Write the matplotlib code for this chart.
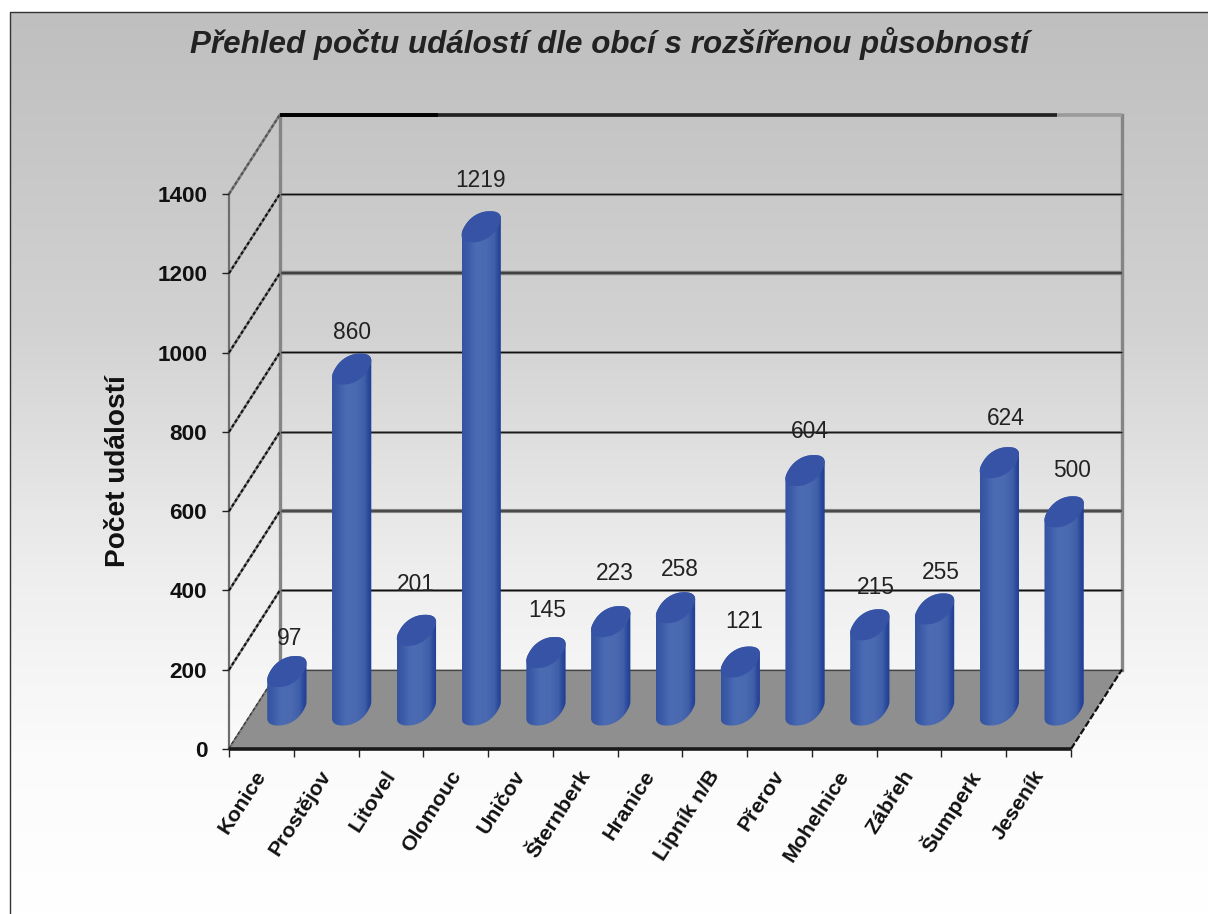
import numpy as np
import matplotlib
matplotlib.use("Agg")
import matplotlib.pyplot as plt
from matplotlib.path import Path
from matplotlib.patches import PathPatch, Polygon
from matplotlib.colors import LinearSegmentedColormap

# ---- data
categories = ["Konice", "Prostějov", "Litovel", "Olomouc", "Uničov", "Šternberk", "Hranice",
              "Lipník n/B", "Přerov", "Mohelnice", "Zábřeh", "Šumperk", "Jeseník"]
values = [97, 860, 201, 1219, 145, 223, 258, 121, 604, 215, 255, 624, 500]
y_ticks = [0, 200, 400, 600, 800, 1000, 1200, 1400]
title = "Přehled počtu událostí dle obcí s rozšířenou působností"
y_label = "Počet událostí"

# ---- label placement (pixels relative to bar top centre)
label_dx = [3, 0, -1, -1, 1, 4, 4, 4, 5, 6, 6, 6, 8]
label_dy = [33, 37, 46, 46, 42, 48, 38, 41, 39, 37, 36, 44, 41]

W, H = 1208, 914
FONT = "Liberation Sans"
plt.rcParams["font.family"] = [FONT, "DejaVu Sans"]
fig = plt.figure(figsize=(W / 100, H / 100), dpi=100, facecolor="white")

# ---- background gradient + frame
bg = fig.add_axes([0, 0, 1, 1], zorder=0)
bg.set_xlim(0, W); bg.set_ylim(H, 0); bg.axis("off")
stops = [(0.0, "#bfbfbf"), (0.35, "#d2d2d2"), (0.62, "#eeeeee"), (0.82, "#fbfbfb"), (1.0, "#ffffff")]
cm = LinearSegmentedColormap.from_list("bg", stops)
bg.imshow(np.linspace(0, 1, 400).reshape(-1, 1), cmap=cm, aspect="auto",
          extent=[10, W, H, 12], vmin=0, vmax=1)
bg.set_xlim(0, W); bg.set_ylim(H, 0)
bg.plot([10, 10, W], [H, 12, 12], color="#333333", lw=1.0)

# ---- main axes = front plane of the 3-D box
L, R, T, B = 229, 1071, 194, 749
ax = fig.add_axes([L / W, 1 - B / H, (R - L) / W, (B - T) / H], zorder=1)
ax.patch.set_visible(False)
n = len(categories)
ax.set_xlim(0, n); ax.set_ylim(0, 1400)
for s in ax.spines.values():
    s.set_visible(False)

px_x = n / (R - L)       # data units per pixel
px_y = 1400 / (B - T)
DX, DY = 51 * px_x, 79.5 * px_y  # full depth of the box


def hline_back(v, x0=0, x1=None, **kw):
    x1 = n if x1 is None else x1
    ax.plot([x0 + DX, x1 + DX], [v + DY, v + DY], clip_on=False, solid_capstyle="butt", **kw)


# walls: vertical edges
ax.plot([DX, DX], [DY, 1400 + DY], color="#858585", lw=2.4, clip_on=False, zorder=1)
ax.plot([n + DX, n + DX], [DY, 1400 + DY], color="#858585", lw=2.4, clip_on=False, zorder=1)
ax.plot([0, 0], [0, 1400], color="#6e6e6e", lw=1.6, clip_on=False, zorder=1)

# gridlines on the back wall and the side wall
grid_style = {200: ("#111111", 1.3), 400: ("#4a4a4a", 2.2), 600: ("#1a1a1a", 1.3),
              800: ("#111111", 1.3), 1000: ("#404040", 2.4), 1200: ("#111111", 1.3)}
for v, (c, lw) in grid_style.items():
    hline_back(v, color="#8a8a8a", lw=lw + 0.8, zorder=1)
    hline_back(v, color=c, lw=lw * 0.7, zorder=1.1)
for v in y_ticks:
    ax.plot([0, DX], [v, v + DY], color="#808080", lw=1.8, clip_on=False, zorder=1.2)
    ax.plot([0, DX], [v, v + DY], color="#111111" if v < 1400 else "#555555", lw=1.5,
            ls=(0, (1.6, 1.1)), clip_on=False, zorder=1.3)

# top edge of the back wall
hline_back(1400, color="#9a9a9a", lw=2.6, zorder=1)
hline_back(1400, x1=12, color="#222222", lw=2.6, zorder=1.1)
hline_back(1400, x1=2.44, color="#000000", lw=2.8, zorder=1.2)

# floor
ax.add_patch(Polygon([(0, 0), (DX, DY), (n + DX, DY), (n, 0)], closed=True, facecolor="#8f8f8f",
                     edgecolor="none", clip_on=False, zorder=1.5))
hline_back(0, color="#444444", lw=0.9, zorder=1.6)
ax.plot([n, n + DX], [0, DY], color="#111111", lw=1.6, ls=(0, (3, 1)), clip_on=False, zorder=1.6)
ax.plot([0, DX], [0, DY], color="#555555", lw=0.8, ls=(0, (4, 1)), clip_on=False, zorder=1.6)
ax.plot([0, n], [0, 0], color="#1a1a1a", lw=2.6, clip_on=False, zorder=1.7, solid_capstyle="butt")

# ---- cylinders
bar_cm = LinearSegmentedColormap.from_list(
    "bar", [(0, "#34549f"), (0.12, "#3a5aa8"), (0.35, "#4b6bb3"), (0.62, "#4a69b1"),
            (0.82, "#3f5fa9"), (0.92, "#2a489c"), (1, "#203e92")])
grad = np.linspace(0, 1, 64).reshape(1, -1)
base_v = 39 * px_y
centre_dx = 0.5 * DX + 0.5
hw, ddx, ddy = 16.8 * px_x, 8.8 * px_x, 15.5 * px_y
SQ = 0.87  # exponent that squares the ellipse off a little


def ellipse(cx, cy, t):
    c = np.sign(np.cos(t)) * np.abs(np.cos(t)) ** SQ
    s = np.sign(np.sin(t)) * np.abs(np.sin(t)) ** SQ
    return cx + hw * c + ddx * s, cy + ddy * s


tgrid = np.linspace(0, 2 * np.pi, 721)[:-1]
xg, _ = ellipse(0.0, 0.0, tgrid)
tt0 = tgrid[np.argmax(xg)]

for i, v in enumerate(values):
    cx = i + centre_dx
    base = base_v
    top = base + v
    low_t = np.linspace(tt0 - np.pi, tt0, 120)
    up_t = np.linspace(tt0, tt0 + np.pi, 120)
    xb, yb = ellipse(cx, base, low_t)
    xt, yt = ellipse(cx, top, up_t)
    body = Path(np.column_stack([np.r_[xb, xt, xb[0]], np.r_[yb, yt, yb[0]]]), closed=True)
    hwx = np.abs(xb - cx).max()
    im = ax.imshow(grad, cmap=bar_cm, aspect="auto", zorder=3, vmin=0, vmax=1,
                   extent=[cx - hwx, cx + hwx, base - 2 * ddy, top + 2 * ddy])
    im.set_clip_path(PathPatch(body, transform=ax.transData))
    im.set_clip_box(fig.bbox)
    xc, yc = ellipse(cx, top, tgrid)
    ax.add_patch(Polygon(np.column_stack([xc, yc]), closed=True, facecolor="#3653a6",
                         edgecolor="none", clip_on=False, zorder=3.2))
    ax.annotate(str(v), (cx, top), xytext=(label_dx[i] * 0.72, label_dy[i] * 0.72),
                textcoords="offset points", ha="center", va="center", fontsize=16.4,
                color="#222222", zorder=4, annotation_clip=False)
ax.set_xlim(0, n); ax.set_ylim(0, 1400)

# ---- ticks and labels
ax.set_xticks(np.arange(n + 1))
ax.set_xticklabels([])
ax.set_xticks(np.arange(n) + 0.5 - 7 * px_x, minor=True)
ax.set_xticklabels(categories, minor=True, rotation=57, ha="right", va="top",
                   rotation_mode="anchor", fontsize=15.4, fontweight="bold", color="#111111")
ax.tick_params(axis="x", which="major", length=5.5, width=1, color="#222222", direction="out")
ax.tick_params(axis="x", which="minor", length=0, pad=13)
ax.set_yticks(y_ticks)
ax.set_yticklabels([str(t) for t in y_ticks], fontsize=16.2, fontweight="bold", color="#111111")
ax.tick_params(axis="y", length=5, width=1, color="#222222", pad=10.7)

bg.text(118, 471, y_label, rotation=90, ha="center", va="center", fontsize=20.2,
        fontweight="bold", color="#111111")
bg.text(610, 44, title, ha="center", va="center", fontsize=22.6, fontweight="bold",
        fontstyle="italic", color="#222222")

fig.savefig("out.png", dpi=100)
